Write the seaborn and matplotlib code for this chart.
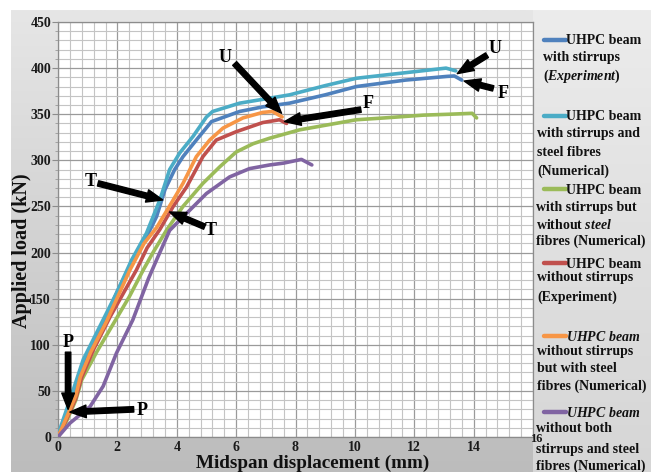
import numpy as np
import pandas as pd
import matplotlib
matplotlib.use('Agg')
import matplotlib.pyplot as plt
import seaborn as sns
from matplotlib.ticker import MultipleLocator
from matplotlib.lines import Line2D
from matplotlib.colors import LinearSegmentedColormap

# ---------------- data ----------------
series_names = [
    "UHPC beam with stirrups (Experiment)",
    "UHPC beam with stirrups and steel fibres (Numerical)",
    "UHPC beam with stirrups but without steel fibres (Numerical)",
    "UHPC beam without stirrups (Experiment)",
    "UHPC beam without stirrups but with steel fibres (Numerical)",
    "UHPC beam without both stirrups and steel fibres (Numerical)",
]
series_colors = ["#4F81BD", "#4BACC6", "#9BBB59", "#C0504D", "#F79646", "#8064A2"]

blue_x = [0, 0.15, 0.45, 0.9, 1.5, 2.0, 2.5, 3.0, 3.32, 3.6, 3.93, 4.21, 4.66, 5.17, 6.12, 6.9, 7.8, 9.0, 10.05, 11.7, 13.1, 13.35, 13.6]
blue_y = [0, 10, 38, 80, 122, 158, 190, 218, 239, 268, 290, 304, 322, 342, 353, 358, 362, 371, 380, 387, 391, 391.5, 387]

teal_x = [0, 0.1, 0.4, 0.85, 1.41, 1.97, 2.48, 2.98, 3.43, 3.76, 4.1, 4.55, 5.0, 5.21, 6.12, 6.68, 7.8, 9.0, 10.05, 11.7, 13.07, 13.4]
teal_y = [0, 12, 40, 84, 120, 156, 192, 221, 257, 290, 308, 326, 347, 353, 362, 365, 371, 381, 389, 395, 400, 397]

green_x = [0, 0.3, 0.6, 0.8, 1.3, 1.85, 2.4, 2.87, 3.2, 3.65, 4.21, 4.88, 5.45, 6.0, 6.57, 7.13, 8.13, 9.0, 10.05, 11.0, 12.3, 13.2, 13.95, 14.1]
green_y = [0, 18, 40, 62, 92, 122, 152, 181, 200, 224, 250, 275, 293, 309, 318, 324, 333, 338, 344, 346, 349, 350, 351, 346]

red_x = [0, 0.3, 0.6, 0.8, 1.2, 1.75, 2.64, 3.0, 3.43, 3.88, 4.33, 4.88, 5.33, 6.0, 6.9, 7.46, 7.7]
red_y = [0, 20, 42, 65, 95, 130, 181, 205, 225, 250, 271, 304, 322, 331, 341, 344, 340]

orange_x = [0, 0.3, 0.6, 0.75, 1.1, 1.63, 2.42, 2.9, 3.32, 3.88, 4.21, 4.66, 5.11, 5.56, 6.23, 6.9, 7.23, 7.55]
orange_y = [0, 22, 45, 65, 92, 125, 181, 210, 227, 257, 275, 304, 322, 335, 346, 352, 353, 347]

purple_x = [0, 0.4, 1.08, 1.52, 1.97, 2.52, 3.05, 3.32, 3.76, 4.44, 5.0, 5.78, 6.45, 7.13, 7.6, 8.2, 8.55]
purple_y = [0, 15, 33, 55, 91, 127, 172, 192, 224, 246, 264, 282, 291, 295, 297, 301, 295]

series_x = [blue_x, teal_x, green_x, red_x, orange_x, purple_x]
series_y = [blue_y, teal_y, green_y, red_y, orange_y, purple_y]

# annotation labels: (text, label pos, arrow tail, arrow tip)
ann_text = ["U", "F", "U", "F", "T", "T", "P", "P"]
ann_label = [(5.62, 412), (10.45, 362), (14.72, 421), (14.98, 373), (1.1, 277), (5.15, 224), (0.34, 103), (2.85, 29)]
ann_tail = [(5.95, 405), (10.2, 355), (14.45, 414), (14.66, 378), (1.35, 275), (4.94, 228), (0.34, 92), (2.55, 30)]
ann_tip = [(7.53, 351), (7.63, 342), (13.45, 394), (13.68, 386), (3.53, 257), (3.76, 244), (0.34, 30), (0.40, 27)]

x_ticks = [0, 2, 4, 6, 8, 10, 12, 14, 16]
y_ticks = [0, 50, 100, 150, 200, 250, 300, 350, 400, 450]

# ---------------- style ----------------
sns.set_theme(style='white')
plt.rcParams['font.family'] = ['Liberation Serif', 'DejaVu Serif']
plt.rcParams['font.weight'] = 'bold'
plt.rcParams['mathtext.fontset'] = 'custom'
plt.rcParams['mathtext.it'] = 'Liberation Serif:italic:bold'
plt.rcParams['mathtext.rm'] = 'Liberation Serif:bold'
plt.rcParams['mathtext.bf'] = 'Liberation Serif:bold'

W, H = 651, 472
fig = plt.figure(figsize=(W / 100, H / 100), dpi=100, facecolor='white')

# background gradient (gray panel)
bg = fig.add_axes([0, 0, 1, 1], zorder=-10)
bg.set_xlim(0, W)
bg.set_ylim(H, 0)
bg.axis('off')
grad = np.linspace(0, 1, 256).reshape(-1, 1)
cm_main = LinearSegmentedColormap.from_list('g', ['#e6e6e6', '#d2d2d2', '#bcbcbc'])
cm_leg = LinearSegmentedColormap.from_list('g2', ['#ececec', '#e0e0e0', '#d6d6d6'])
bg.imshow(grad, extent=[11, 533, H, 10], aspect='auto', cmap=cm_main, origin='upper')
bg.imshow(grad, extent=[533, W, H, 10], aspect='auto', cmap=cm_leg, origin='upper')

ax = fig.add_axes([58 / W, 1 - 437 / H, (533 - 58) / W, (437 - 22) / H])
ax.set_facecolor('white')

rows = []
for name, xs, ys in zip(series_names, series_x, series_y):
    for i, (xv, yv) in enumerate(zip(xs, ys)):
        rows.append({'series': name, 'disp': xv, 'load': yv, 'order': i})
df = pd.DataFrame(rows)

sns.lineplot(data=df, x='disp', y='load', hue='series', hue_order=series_names,
             palette=dict(zip(series_names, series_colors)), sort=False,
             estimator=None, lw=2.6, legend=False, ax=ax, zorder=3)
for ln in ax.get_lines():
    ln.set_solid_joinstyle('round')
    ln.set_solid_capstyle('round')

ax.set_xlim(0, 16)
ax.set_ylim(0, 450)
ax.xaxis.set_minor_locator(MultipleLocator(0.4))
ax.yaxis.set_minor_locator(MultipleLocator(10))
ax.set_xticks(x_ticks)
ax.set_yticks(y_ticks)
ax.set_xticklabels([str(v) for v in x_ticks[:-1]] + [''], fontsize=10, fontweight='bold')
ax.set_yticklabels([str(v) for v in y_ticks], fontsize=10, fontweight='bold')
ax.text(16.1, -2.5, str(x_ticks[-1]), fontsize=9, fontweight='bold', ha='center', va='center',
        color='#1a1a1a', clip_on=False)
ax.grid(which='major', color='#9a9a9a', lw=0.9, zorder=0)
ax.grid(which='minor', color='#c4c4c4', lw=0.8, zorder=0)
ax.set_axisbelow(True)
ax.tick_params(axis='x', which='both', length=0, pad=3, colors='#1a1a1a')
ax.tick_params(axis='y', which='major', length=4, width=0.8, pad=1, color='#8c8c8c',
               labelcolor='#1a1a1a', left=True)
ax.tick_params(axis='y', which='minor', length=2, width=0.6, color='#9a9a9a', left=True)
for sp in ax.spines.values():
    sp.set_color('#8c8c8c')
    sp.set_linewidth(0.9)

ax.set_xlabel('Midspan displacement (mm)', fontsize=13.8, fontweight='bold', color='#111111')
ax.set_ylabel('Applied load (kN)', fontsize=14.5, fontweight='bold', color='#111111')
ax.xaxis.set_label_coords(0.537, -0.043)
ax.yaxis.set_label_coords(-0.055, 0.448)

# arrows and labels
for t, lp, tail, tip in zip(ann_text, ann_label, ann_tail, ann_tip):
    ax.annotate('', xy=tip, xytext=tail,
                arrowprops=dict(arrowstyle='simple,head_length=0.9,head_width=0.7,tail_width=0.3',
                                color='black', shrinkA=0, shrinkB=0, mutation_scale=13),
                zorder=6)
    ax.text(lp[0], lp[1], t, fontsize=13, fontweight='bold', ha='center', va='center',
            color='black', zorder=7)

# custom legend at right
leg_lines = [
    ["UHPC beam", "with stirrups", r"($\mathit{Experiment}$)"],
    ["UHPC beam", "with stirrups and", "steel fibres", "(Numerical)"],
    ["UHPC beam", "with stirrups but", r"without $\mathit{steel}$", "fibres (Numerical)"],
    ["UHPC beam", "without stirrups", "(Experiment)"],
    [r"$\mathit{UHPC\ beam}$", "without stirrups", "but with steel", "fibres (Numerical)"],
    [r"$\mathit{UHPC\ beam}$", "without both", "stirrups and steel", "fibres (Numerical)"],
]
leg_ys = [
    [41, 58, 76],
    [117, 134, 153, 171],
    [190, 207, 225, 241],
    [264, 278, 297],
    [337, 351, 369, 386],
    [413, 428, 450, 466],
]
leg_left = [543, 537, 536, 537, 537, 536]
for name, col, lines, ys, lx in zip(series_names, series_colors, leg_lines, leg_ys, leg_left):
    for j, (txt, yy) in enumerate(zip(lines, ys)):
        if j == 0:
            fig.add_artist(Line2D([544 / W, 566 / W], [1 - (yy - 1) / H] * 2, color=col, lw=3.2,
                                  transform=fig.transFigure))
            fig.text(566 / W, 1 - yy / H, txt, fontsize=10, fontweight='bold', ha='left',
                     va='center', color='#111111')
        else:
            fig.text(lx / W, 1 - yy / H, txt, fontsize=10, fontweight='bold', ha='left',
                     va='center', color='#111111')

fig.savefig('out.png', dpi=100, facecolor='white')
